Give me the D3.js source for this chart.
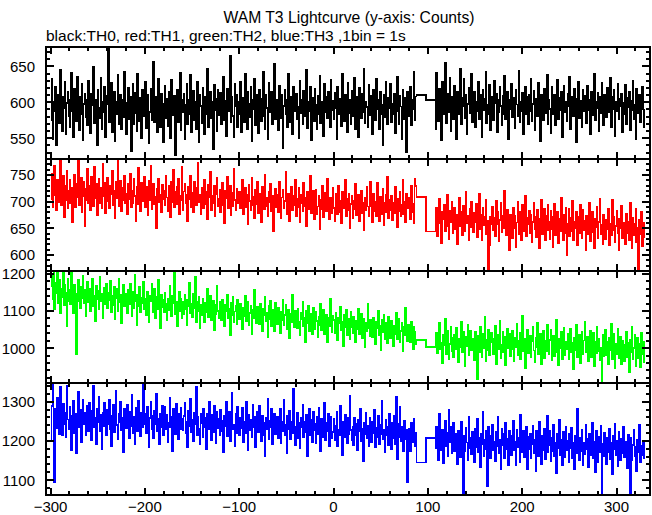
<!DOCTYPE html>
<html><head><meta charset="utf-8">
<script src="https://cdn.jsdelivr.net/npm/d3@7"></script>
<style>body{margin:0;background:#fff}svg{display:block}text{font-family:"Liberation Sans",Arial,Helvetica,sans-serif}</style>
</head><body><svg id="c" width="652" height="515"></svg>
<script>
// ---------------- data ----------------
const seriesNames = ["TH0","TH1","TH2","TH3"];
const seriesColors = ["#000000","#ff0000","#00ff00","#0000ff"];
const seg1Start = -300;   // first 1 s bin start (s)
const seg2Start = 108;    // first 1 s bin after the gap (s)
const gapEdges = [88, 98, 108]; // two long bins inside the gap
const yTicksMajor = [[550,600,650],[600,650,700,750],[1000,1100,1200],[1100,1200,1300]];
const xTickLabels = [-300,-200,-100,0,100,200,300];

const th0Seg1 = [575,632,548,601,588,622,540,596,610,571,645,583,560,607,592,628,555,599,614,580,
566,603,641,587,552,619,595,574,636,590,561,608,583,625,547,598,612,579,604,568,
630,585,557,612,596,649,571,589,603,540,617,592,578,634,563,600,586,621,551,597,
609,676,573,594,627,558,588,615,546,601,584,638,570,593,611,562,604,579,643,587,
555,599,620,577,608,532,591,626,569,613,585,560,639,596,574,606,550,617,590,581,
628,564,597,611,543,586,619,575,602,656,572,594,608,559,633,587,566,612,598,545,
591,623,578,605,567,614,589,550,631,596,582,609,527,600,618,573,594,641,561,603,
586,612,549,597,625,570,604,583,638,558,592,616,575,601,563,629,590,544,610,595,
571,620,598,556,607,584,647,566,593,614,578,601,535,624,589,605,560,617,582,599,
613,569,590,636,575,602,553,619,587,596,664,572,608,581,552,626,594,611,565,600,
584,628,559,606,593,573,640,588,562,615,598,579,621,546,603,590,633,568,610,585,
557,618,596,574,605,642,580,563,611,592,548,627,601,586,614,570,597,653,576,604,
589,561,623,599,578,610,536,595,617,583,603,566,639,591,572,608,555,621,587,598,
612,577,594,550,630,585,604,569,616,592,580,645,564,601,588,622,547,606,593,574,
619,596,562,609,583,637,571,600,590,553,625,586,607,578,614,595,566,631,589,602,
576,613,592,548,621,598,583,605,567,640,590,574,611,596,558,627,585,603,570,616,
594,581,634,563,607,589,551,620,597,578,612,586,646,571,600,593,566,624,582,609,
588,555,617,599,575,632,591,604,562,615,584,596,540,611,579,628,601,569,606,592,
625,573,598,583,612,557,603,636,587,570,609,594,549,618,590,577,606,531,614,597,
581,622,568,603,590,643,575,608];
const th0Gap = [610, 603];
const th0Seg2 = [562,641,588,574,619,596,547,628,583,605,655,571,599,612,586,634,560,608,592,577,
623,590,548,615,601,583,647,569,606,594,632,578,611,556,598,620,585,604,639,573,
593,614,566,601,587,629,576,610,596,552,618,589,605,642,571,597,583,624,561,607,
591,575,630,599,612,558,604,586,621,595,568,609,583,637,577,600,615,549,603,590,
626,579,606,592,564,618,597,581,644,572,601,588,613,555,596,622,584,607,569,610,
587,633,574,598,616,561,593,605,580,627,592,546,611,599,575,619,603,585,638,570,
604,591,557,622,596,583,610,568,600,631,577,606,589,614,552,597,623,586,601,574,
612,595,636,563,599,608,581,619,590,544,605,628,578,602,593,566,617,587,609,598,
571,623,589,604,556,615,596,582,640,575,601,592,613,560,607,585,627,594,568,611,
603,579,620,597,586,634,565,608,591,617,553,600,588,625,576,605,594,612,558,599,
583,624,570,606,593,615,561,602,589,630,577,597,548,619,604,585,611,573,596,621,
590,566];

const th1Seg1 = [705,752,690,731,768,712,684,740,699,725,783,694,716,748,671,729,702,757,688,720,
741,697,726,662,713,750,689,734,708,776,693,721,745,680,711,738,655,724,703,761,
698,729,684,747,717,692,765,706,733,675,719,742,697,726,688,771,710,736,679,722,
744,701,688,729,714,758,693,720,669,737,706,786,691,718,739,682,725,703,748,697,
715,676,733,704,752,689,721,698,742,711,664,727,695,763,708,683,736,701,719,746,
690,728,711,674,739,702,768,686,717,734,695,709,651,724,743,699,713,680,731,705,
721,693,748,708,682,730,714,671,737,700,759,689,718,696,727,743,677,711,702,766,
685,719,734,697,712,663,728,704,749,690,716,681,738,707,694,725,772,699,713,676,
726,702,687,741,695,718,668,732,709,756,684,711,698,729,673,715,744,691,706,722,
680,713,735,694,659,721,706,747,688,700,729,674,716,692,762,703,685,724,698,711,
719,687,704,740,676,698,726,690,712,658,731,701,684,745,693,709,669,722,696,737,
678,714,695,661,728,700,686,751,692,707,673,719,699,734,682,711,645,703,724,689,
712,681,738,696,670,708,722,687,701,755,676,694,715,664,699,728,684,710,693,741,
673,705,690,726,662,713,697,682,735,691,707,655,718,686,700,748,679,694,720,668,
699,723,677,691,711,649,704,686,730,671,695,716,683,742,690,667,708,697,679,725,
688,664,714,693,676,729,681,702,659,719,687,697,740,672,706,684,715,651,695,711,
670,702,686,733,675,694,712,663,689,721,679,698,646,708,684,727,691,673,704,738,
692,661,715,683,700,672,736,688,664,709,695,677,724,656,697,712,681,746,669,703,
685,711,666,698,679,727,690,652,706,683,718,672,694,741,676,700,661,714,687,695,
708,668,729,681,695,659,743,730];
const th1Gap = [709, 644];
const th1Seg2 = [651,688,636,672,705,659,623,681,667,694,645,676,712,654,630,683,662,699,641,670,
689,648,676,621,663,707,655,680,637,693,669,644,718,659,674,628,686,652,700,665,
642,679,661,696,633,668,715,649,675,627,688,656,671,703,640,664,573,619,672,657,
690,647,669,635,702,658,680,626,665,698,643,674,651,721,662,638,684,655,609,676,
667,632,688,650,674,614,661,699,640,681,653,627,694,664,645,710,636,670,657,683,
641,676,624,662,697,648,671,633,685,655,612,668,704,639,659,686,628,673,646,694,
663,630,682,649,615,671,696,638,658,680,623,667,644,708,653,627,675,641,689,600,
658,686,635,669,645,701,627,663,650,680,618,672,641,694,656,631,684,647,664,609,
674,639,660,697,626,654,681,643,613,668,652,690,631,662,706,640,657,621,676,645,
629,665,648,686,618,659,637,703,646,671,625,655,682,641,610,667,651,693,632,660,
654,620,677,641,663,628,698,645,612,669,637,658,686,624,650,574,666,639,680,617,
660,633];

const th2Seg1 = [1168,1195,1131,1212,1104,1176,1149,1210,1122,1185,1093,1160,1137,1203,1115,1171,1150,1059,1188,1128,
1156,1118,1207,1139,1094,1172,1147,983,1126,1183,1151,1109,1164,1135,1196,1120,1158,1087,1142,1179,
1124,1161,1099,1148,1186,1113,1140,1073,1169,1131,1155,1104,1192,1127,1146,1082,1163,1119,1137,1174,
1108,1150,1129,1181,1096,1142,1117,1165,1078,1136,1159,1101,1188,1124,1144,1067,1133,1171,1112,1147,
1139,1093,1157,1118,1174,1130,1085,1151,1109,1198,1127,1062,1145,1113,1166,1098,1136,1121,1180,1104,
1133,1089,1152,1115,1071,1141,1126,1173,1097,1118,1160,1081,1137,1106,1184,1120,1055,1144,1111,1129,
1096,1148,1119,1075,1133,1102,1167,1110,1087,1140,1121,1203,1092,1126,1058,1115,1151,1099,1134,1080,
1125,1091,1143,1106,1062,1130,1114,1176,1095,1119,1083,1147,1108,1192,1070,1124,1100,1138,1054,1116,
1089,1134,1107,1069,1121,1096,1159,1083,1112,1141,1075,1103,1127,1048,1116,1092,1169,1101,1080,1125,
1110,1076,1129,1094,1058,1117,1101,1145,1082,1106,1036,1123,1090,1138,1071,1099,1114,1064,1131,1093,
1078,1120,1097,1052,1109,1086,1142,1073,1100,1125,1061,1094,1115,1039,1104,1080,1156,1090,1068,1112,
1101,1066,1119,1083,1045,1107,1090,1137,1072,1096,1030,1113,1079,1128,1059,1088,1104,1047,1122,1081,
1064,1109,1085,1040,1097,1075,1131,1061,1089,1116,1051,1083,1103,1027,1093,1070,1144,1078,1056,1100,
1087,1053,1106,1071,1034,1094,1079,1124,1060,1083,1017,1101,1068,1115,1047,1076,1092,1037,1109,1069,
1052,1097,1073,1029,1085,1063,1119,1049,1077,1104,1039,1071,1091,1015,1081,1058,1132,1066,1044,1088,
1075,1041,1094,1059,1022,1082,1067,1112,1048,1071,1005,1089,1056,1103,1035,1064,1080,1025,1097,1057,
1040,1085,1061,1017,1073,1051,1107,1037,1065,1092,1027,1059,1079,1003,1069,1046,1120,1054,1032,1076,
1063,1029,1082,1047,1010,1070,1055,1100,1036,1059,994,1077,1044,1091,1023,1052,1068,1013,1085,1045,
1028,1073,1049,1005,1061,1039,1095,1025,1053,1080,1015,1047,1067,991,1057,1034,1108,1042,1020,1064,
1051,1017,1070,1035,998,1058,1043,1012];
const th2Gap = [1022, 1004];
const th2Seg2 = [1002,1041,987,1024,1068,996,1013,959,1035,1007,1079,984,1020,1046,971,1011,1058,993,1029,975,
1037,998,1054,1016,962,1026,1003,1071,989,1043,1012,952,1031,1005,1062,981,1019,1047,994,1025,
1006,968,1044,1015,917,1033,990,1057,1009,976,1038,1001,1084,966,1022,995,1049,980,1017,1040,
1026,985,1011,1060,958,1019,1036,997,1073,972,1008,1045,988,1030,955,1014,1052,999,1039,978,
996,1047,1010,964,1028,1003,1066,982,1021,1042,969,1006,1088,991,1024,947,1015,1050,987,1012,
1033,976,1019,1058,994,961,1027,1004,1069,983,1011,1039,956,1000,1046,973,1020,992,1063,1008,
985,1022,1049,967,1005,1034,979,1014,1075,990,953,1026,1001,1043,970,1009,1056,981,1018,996,
1038,971,1003,1051,988,1015,942,1029,995,1062,977,1008,1035,960,999,1044,983,1021,1070,989,
1006,1031,964,997,1047,975,1012,1040,951,1018,986,1057,993,1024,968,1002,910,1036,979,1010,
1049,981,1016,958,1027,994,1066,970,1004,1039,946,1011,985,1053,973,999,1030,957,1019,988,
964,1008,1045,977,1014,936,1023,990,1058,969,1001,1035,952,996,1027,974,1012,948,1040,983,
1017,961];

const th3Seg1 = [1205,1290,1344,1258,1096,1281,1232,1310,1247,1218,1339,1266,1214,1295,1243,1271,1209,1342,1255,1229,
1287,1238,1176,1264,1302,1221,1270,1168,1249,1325,1234,1280,1197,1259,1306,1242,1273,1216,1289,1251,
1226,1297,1262,1203,1277,1340,1236,1259,1191,1283,1248,1312,1224,1266,1178,1271,1239,1298,1255,1215,
1279,1244,1306,1231,1186,1263,1291,1222,1254,1329,1240,1205,1270,1247,1301,1227,1260,1171,1283,1250,
1233,1291,1256,1207,1275,1239,1317,1221,1262,1193,1285,1248,1226,1303,1256,1212,1273,1236,1346,1243,
1268,1219,1287,1245,1183,1259,1300,1231,1263,1206,1278,1242,1321,1225,1257,1192,1270,1236,1289,1214,
1252,1288,1229,1266,1197,1247,1311,1235,1262,1174,1281,1241,1218,1296,1249,1204,1270,1230,1285,1256,
1227,1263,1298,1219,1249,1185,1276,1238,1307,1223,1255,1199,1272,1243,1338,1216,1261,1230,1191,1268,
1245,1210,1283,1236,1260,1179,1270,1229,1301,1241,1203,1266,1222,1289,1248,1194,1274,1233,1257,1215,
1280,1226,1251,1172,1263,1237,1299,1212,1246,1274,1200,1258,1323,1229,1240,1187,1268,1221,1287,1236,
1214,1259,1233,1284,1196,1248,1220,1301,1238,1176,1266,1227,1255,1209,1293,1235,1262,1183,1244,1274,
1223,1290,1241,1199,1265,1216,1247,1162,1259,1230,1308,1205,1252,1236,1281,1193,1239,1270,1218,1246,
1261,1208,1237,1283,1195,1250,1226,1306,1214,1242,1170,1263,1231,1277,1204,1248,1219,1333,1236,1190,
1229,1272,1207,1245,1182,1258,1234,1293,1211,1249,1223,1267,1160,1240,1281,1216,1253,1198,1275,1227,
1243,1194,1262,1218,1285,1231,1173,1256,1210,1239,1297,1203,1247,1225,1269,1186,1236,1261,1207,1222,
1256,1201,1238,1275,1186,1229,1214,1290,1222,1165,1248,1209,1266,1233,1195,1259,1217,1314,1228,1203,
1237,1189,1260,1215,1244,1176,1253,1226,1283,1200,1231,1149,1246,1218,1271,1206,1239,1187,1259,1224,
1198,1250,1220,1279,1183,1234,1209,1263,1193,1241,1217,1302,1204,1228,1171,1255,1214,1237,1190,1268,
1222,1180,1247,1206,1265,1192,1312,1154,1243,1210,1286,1199,1237,1218,1174,1251,1204,1228,1095,1195,
1230,1175,1246,1212,1198,1257,1186,1221];
const th3Gap = [1145, 1208];
const th3Seg2 = [1182,1237,1201,1152,1268,1214,1176,1229,1143,1206,1252,1188,1220,1161,1279,1197,1235,1170,1211,1245,
1173,1219,1191,1141,1227,1203,1158,1248,1185,1063,1212,1174,1233,1196,1150,1262,1181,1208,1167,1224,
1199,1146,1230,1185,1256,1171,1209,1132,1217,1192,1274,1160,1203,1227,1179,1084,1236,1194,1155,1213,
1240,1177,1198,1149,1223,1186,1261,1168,1204,1129,1231,1190,1218,1157,1245,1180,1206,1139,1226,1193,
1165,1214,1251,1176,1197,1138,1229,1184,1207,1146,1267,1172,1200,1225,1159,1188,1236,1127,1211,1180,
1219,1156,1193,1238,1170,1203,1124,1227,1183,1162,1249,1195,1141,1214,1177,1232,1153,1199,1265,1171,
1189,1226,1148,1207,1173,1242,1160,1196,1119,1218,1181,1254,1165,1203,1137,1224,1186,1158,1237,1176,
1201,1145,1219,1182,1233,1156,1194,1128,1212,1170,1283,1187,1151,1209,1174,1228,1139,1196,1166,1241,
1179,1205,1134,1217,1163,1190,1246,1155,1198,1120,1225,1184,1147,1211,1171,1239,1068,1193,1160,1221,
1186,1142,1208,1171,1230,1153,1195,1116,1214,1178,1243,1164,1201,1136,1222,1183,1150,1205,1169,1235,
1158,1197,1174,1131,1216,1180,1066,1208,1151,1190,1229,1162,1185,1123,1203,1172,1240,1146,1188,1163,
1194,1157];

const segs1 = [th0Seg1, th1Seg1, th2Seg1, th3Seg1];
const gaps = [th0Gap, th1Gap, th2Gap, th3Gap];
const segs2 = [th0Seg2, th1Seg2, th2Seg2, th3Seg2];
const yDomains = [[521,677],[570,780],[906,1208],[1062,1348]];
const yMinorStep = [10,10,20,20];

// ---------------- layout ----------------
const W = 652, H = 515;
const L = 46, R = 650;
const panelTops = [47, 159, 271, 383];
const panelH = 112;
const svg = d3.select("#c");
svg.append("rect").attr("width",W).attr("height",H).attr("fill","#fff");

const x = d3.scaleLinear().domain([-304.8, 335.5]).range([L, R]);

svg.append("text").attr("x", 349).attr("y", 23).attr("text-anchor","middle")
  .attr("font-size", 15.7).text("WAM T3 Lightcurve (y-axis: Counts)");
svg.append("text").attr("x", 46).attr("y", 41)
  .attr("font-size", 15.5).text("black:TH0, red:TH1, green:TH2, blue:TH3 ,1bin = 1s");

function buildPoints(k){
  const pts = [];
  segs1[k].forEach((v,i)=>pts.push([seg1Start+i, v]));
  pts.push([gapEdges[0], gaps[k][0]]);
  pts.push([gapEdges[1], gaps[k][1]]);
  segs2[k].forEach((v,i)=>pts.push([seg2Start+i, v]));
  const last = segs2[k][segs2[k].length-1];
  pts.push([seg2Start+segs2[k].length, last]);
  return pts;
}

const defs = svg.append("defs");
const xMinor = d3.range(-300, 336, 20);

panelTops.forEach((top, k)=>{
  const y = d3.scaleLinear().domain(yDomains[k]).range([top+panelH, top]);
  defs.append("clipPath").attr("id","cp"+k).append("rect")
    .attr("x",L).attr("y",top).attr("width",R-L).attr("height",panelH);
  const g = svg.append("g");
  const line = d3.line().x(d=>x(d[0])).y(d=>y(d[1])).curve(d3.curveStepAfter);
  g.append("path").datum(buildPoints(k)).attr("clip-path","url(#cp"+k+")")
    .attr("fill","none").attr("stroke",seriesColors[k]).attr("stroke-width",1.7)
    .attr("stroke-linejoin","miter")
    .attr("shape-rendering","crispEdges").attr("d",line);

  const ax = svg.append("g").attr("stroke","#000").attr("fill","none").attr("shape-rendering","crispEdges");
  // frame
  ax.append("rect").attr("x",L).attr("y",top).attr("width",R-L).attr("height",panelH).attr("stroke-width",1.6);
  // x ticks top & bottom (inward)
  xMinor.forEach(t=>{
    const len = (t % 100 === 0) ? 7 : 4;
    const xx = Math.round(x(t));
    ax.append("line").attr("x1",xx).attr("x2",xx).attr("y1",top).attr("y2",top+len).attr("stroke-width",1.6);
    ax.append("line").attr("x1",xx).attr("x2",xx).attr("y1",top+panelH).attr("y2",top+panelH-len).attr("stroke-width",1.6);
  });
  // y ticks left & right (inward)
  const st = yMinorStep[k];
  const yMinor = d3.range(Math.ceil(yDomains[k][0]/st)*st, yDomains[k][1]+0.001, st);
  yMinor.forEach(v=>{
    const major = yTicksMajor[k].includes(v);
    const len = major ? 8 : 4;
    const yy = Math.round(y(v));
    ax.append("line").attr("x1",L).attr("x2",L+len).attr("y1",yy).attr("y2",yy).attr("stroke-width",1.6);
    ax.append("line").attr("x1",R).attr("x2",R-len).attr("y1",yy).attr("y2",yy).attr("stroke-width",1.6);
  });
  // y labels
  yTicksMajor[k].forEach(v=>{
    svg.append("text").attr("x",35).attr("y",y(v)).attr("dy","0.36em")
      .attr("text-anchor","end").attr("font-size",15).text(v);
  });
});

// x labels
xTickLabels.forEach(t=>{
  svg.append("text").attr("x",x(t)).attr("y",511.5).attr("text-anchor","middle")
    .attr("font-size",15).text(t<0 ? "\u2212"+Math.abs(t) : String(t));
});
</script></body></html>
